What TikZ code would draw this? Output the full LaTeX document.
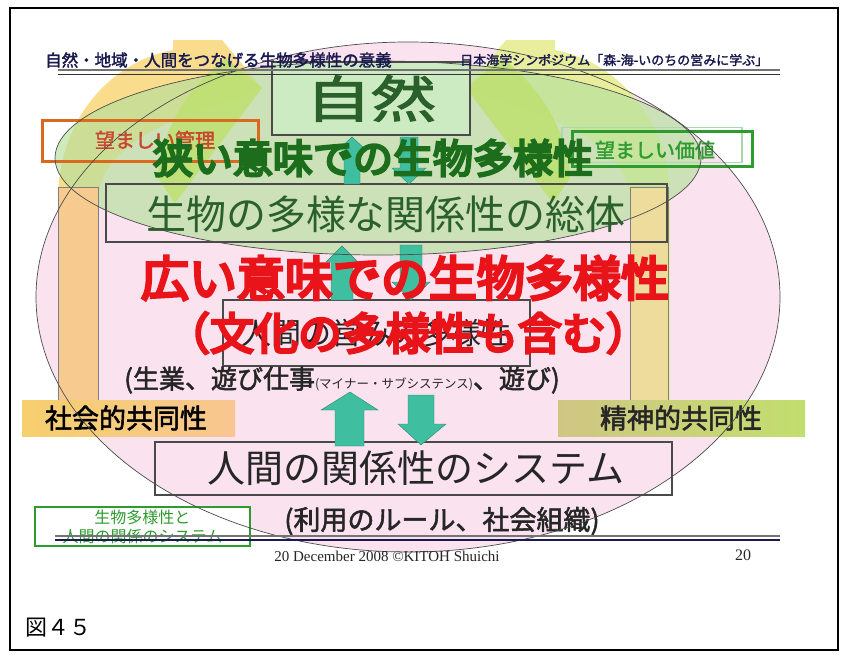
\documentclass[tikz,border=0pt]{standalone}
\usepackage{fontspec}
\setmainfont{Liberation Serif}
\newfontfamily\jp{Noto Sans CJK JP}
\newfontfamily\jpb[FakeBold=2]{Noto Sans CJK JP}
\newfontfamily\jpbb[FakeBold=6]{Noto Sans CJK JP}
\definecolor{pinkbg}{HTML}{FAE3EF}
\definecolor{yelband}{HTML}{FADD8C}
\definecolor{yelgreen}{HTML}{E8EE9C}
\definecolor{greenell}{HTML}{B4E09C}
\definecolor{limeL}{HTML}{BEE070}
\definecolor{peach}{HTML}{F7CB8F}
\definecolor{paleyel}{HTML}{EEDC9C}
\definecolor{natgreen}{HTML}{CDEBC3}
\definecolor{darkgreen}{HTML}{2A602A}
\definecolor{heavygreen}{HTML}{1C6E1C}
\definecolor{redtxt}{HTML}{E81419}
\definecolor{teal}{HTML}{40BFA0}
\definecolor{navy}{HTML}{1A1A50}
\definecolor{boxgray}{HTML}{4A4A4A}
\definecolor{orangebox}{HTML}{D9691F}
\definecolor{greenbox}{HTML}{2E9B2E}
\definecolor{barLa}{HTML}{F6CF6E}
\definecolor{barLb}{HTML}{F8C691}
\definecolor{barRa}{HTML}{D0C684}
\definecolor{barRb}{HTML}{C2DE6E}
\definecolor{kanritxt}{HTML}{C84632}
\begin{document}
\begin{tikzpicture}[x=1pt,y=-1pt,
  boxstyle/.style={draw=boxgray, line width=1.2pt, inner sep=0pt},
  arrowfill/.style={fill=teal, draw=teal!70!black, line width=0.4pt},
  ellline/.style={draw=black!70, line width=0.7pt}]
\useasboundingbox (0,0) rectangle (847,659);
\fill[white] (0,0) rectangle (847,659);
% big pink ellipse
\fill[pinkbg] (408,297) ellipse [x radius=372, y radius=255];
% left band
\fill[yelband] (58,400) -- (58,200) .. controls (58,120) and (110,62) .. (173,50) -- (173,40) -- (222,40) -- (262,88) -- (235,100) .. controls (160,120) and (100,150) .. (98,200) -- (98,400) -- cycle;
% right band (mirrored)
\begin{scope}[xshift=728, xscale=-1]
\fill[yelgreen] (58,400) -- (58,200) .. controls (58,120) and (110,62) .. (173,50) -- (173,40) -- (222,40) -- (262,88) -- (235,100) .. controls (160,120) and (100,150) .. (98,200) -- (98,400) -- cycle;
\end{scope}
% upper green ellipse
\fill[greenell, opacity=0.65] (378,158) ellipse [x radius=323, y radius=97];
% green wedges
\fill[limeL, opacity=0.85] (226,58) -- (262,88) -- (175,203) -- (158,178) .. controls (160,130) and (190,85) .. (226,58) -- cycle;
\begin{scope}[xshift=728, xscale=-1]
\fill[limeL, opacity=0.85] (226,58) -- (262,88) -- (175,203) -- (158,178) .. controls (160,130) and (190,85) .. (226,58) -- cycle;
\end{scope}
% vertical bars
\draw[black!50, fill=peach] (58,187) rectangle (98,400);
\draw[black!50, fill=paleyel] (630,187) rectangle (668,400);
% horizontal bars
\shade[left color=barLa, right color=barLb] (22,400) rectangle (235,436);
\shade[left color=barRa, right color=barRb] (558,400) rectangle (805,436);
% boxes
\node[boxstyle, fill=natgreen, minimum width=198, minimum height=73] (shizen) at (371,98.5) {};
\node[boxstyle, minimum width=561, minimum height=58] (seibutsu) at (386.5,213) {};
\node[boxstyle, minimum width=307, minimum height=66] (ningen) at (376.5,333) {};
\node[boxstyle, minimum width=517, minimum height=53] (kankei) at (413.5,468.5) {};
\node[draw=orangebox, line width=3pt, minimum width=216, minimum height=41, inner sep=0pt] (kanri) at (150,140.5) {};
\node[draw=greenbox!40, line width=1.5pt, minimum width=180, minimum height=35, inner sep=0pt] (kachishadow) at (652,145) {};
\node[draw=greenbox, line width=3pt, minimum width=180, minimum height=35, inner sep=0pt] (kachi) at (662,148.5) {};
\node[draw=greenbox, line width=2pt, fill=white, minimum width=215, minimum height=39, inner sep=0pt] (legend) at (142.5,526.5) {};
% teal arrows
\fill[arrowfill] (352,137) -- (366,150) -- (360,150) -- (360,184) -- (344,184) -- (344,150) -- (338,150) -- cycle;
\fill[arrowfill] (400,137) -- (418,137) -- (418,168) -- (426,168) -- (409,184) -- (392,168) -- (400,168) -- cycle;
\fill[arrowfill] (342,246) -- (358,262) -- (353,262) -- (353,300) -- (331,300) -- (331,262) -- (326,262) -- cycle;
\fill[arrowfill] (400,245) -- (422,245) -- (422,282) -- (430,282) -- (411,300) -- (392,282) -- (400,282) -- cycle;
\fill[arrowfill] (350,392) -- (378,410) -- (364,410) -- (364,446) -- (335,446) -- (335,410) -- (321,410) -- cycle;
\fill[arrowfill] (408,395) -- (434,395) -- (434,424) -- (446,424) -- (421,445) -- (398,424) -- (408,424) -- cycle;
% box texts
\node[text=darkgreen] (tshizen) at (shizen) {\jpb\fontsize{50}{56}\selectfont\scalebox{1.3}[1]{自然}};
\node[text=darkgreen] (tseibutsu) at (386,214) {\jp\fontsize{40}{46}\selectfont 生物の多様な関係性の総体};
\node[text=black!85] (tningen) at (ningen) {\jp\fontsize{30}{36}\selectfont 人間の営みの多様性};
\node[text=black!85] (tkankei) at (416,468) {\jp\fontsize{38}{44}\selectfont 人間の関係性のシステム};
\node[text=kanritxt] (tkanri) at (155,140) {\jpb\fontsize{20}{24}\selectfont 望ましい管理};
\node[text=greenbox] (tkachi) at (655,150) {\jpb\fontsize{20}{24}\selectfont 望ましい価値};
\node[text=greenbox, align=center, inner sep=0pt, font=\jp\fontsize{16}{19}\selectfont] (tlegend) at (142.5,526.5) {生物多様性と\\人間の関係のシステム};
% big overlay texts
\node[text=heavygreen] (narrow) at (373,158) {\jpbb\fontsize{40}{46}\selectfont 狭い意味での生物多様性};
\node[text=redtxt] (broad) at (405,278) {\jpbb\fontsize{48}{54}\selectfont 広い意味での生物多様性};
\node[text=redtxt] (bunka) at (408,333) {\jpbb\fontsize{44}{50}\selectfont （文化の多様性も含む）};
\node[text=black!85] (seigyo) at (342,380) {\jpb\fontsize{26}{30}\selectfont (生業、遊び仕事{\jp\fontsize{12.5}{14}\selectfont (マイナー・サブシステンス)}、遊び)};
\node[text=black] (shakai) at (126,418) {\jpb\fontsize{27}{30}\selectfont 社会的共同性};
\node[text=black!85] (seishin) at (681,418) {\jpb\fontsize{27}{30}\selectfont 精神的共同性};
\node[text=black!85] (riyou) at (442,521) {\jpb\fontsize{27}{30}\selectfont (利用のルール、社会組織)};
% ellipse outlines
\draw[ellline] (408,297) ellipse [x radius=372, y radius=255];
\draw[ellline] (378,158) ellipse [x radius=323, y radius=97];
% header
\draw[black!55, line width=1.5pt] (58,70) -- (780,70);
\draw[black!80, line width=1pt] (58,74) -- (780,74);
\node[anchor=west, text=navy, inner sep=0pt] (hleft) at (45,60) {\jpb\fontsize{16.5}{18}\selectfont 自然・地域・人間をつなげる生物多様性の意義};
\node[anchor=west, text=navy, inner sep=0pt] (hright) at (460,60) {\jpb\fontsize{13}{15}\selectfont 日本海学シンポジウム「森-海-いのちの営みに学ぶ」};
% footer
\draw[black!55, line width=1.5pt] (55,536) -- (780,536);
\draw[navy, line width=1.2pt] (55,540) -- (780,540);
\node[text=black!85] (credit) at (387,556) {\fontsize{15}{17}\selectfont 20 December 2008 ©KITOH Shuichi};
\node[text=black!85] (pagenum) at (743,555) {\fontsize{16}{18}\selectfont 20};
% frame and caption
\draw[line width=1.5pt] (10,8) rectangle (838,650);
\node[anchor=west, inner sep=0pt] (fig) at (25,628) {\jp\fontsize{22}{26}\selectfont 図４５};
\end{tikzpicture}
\end{document}
